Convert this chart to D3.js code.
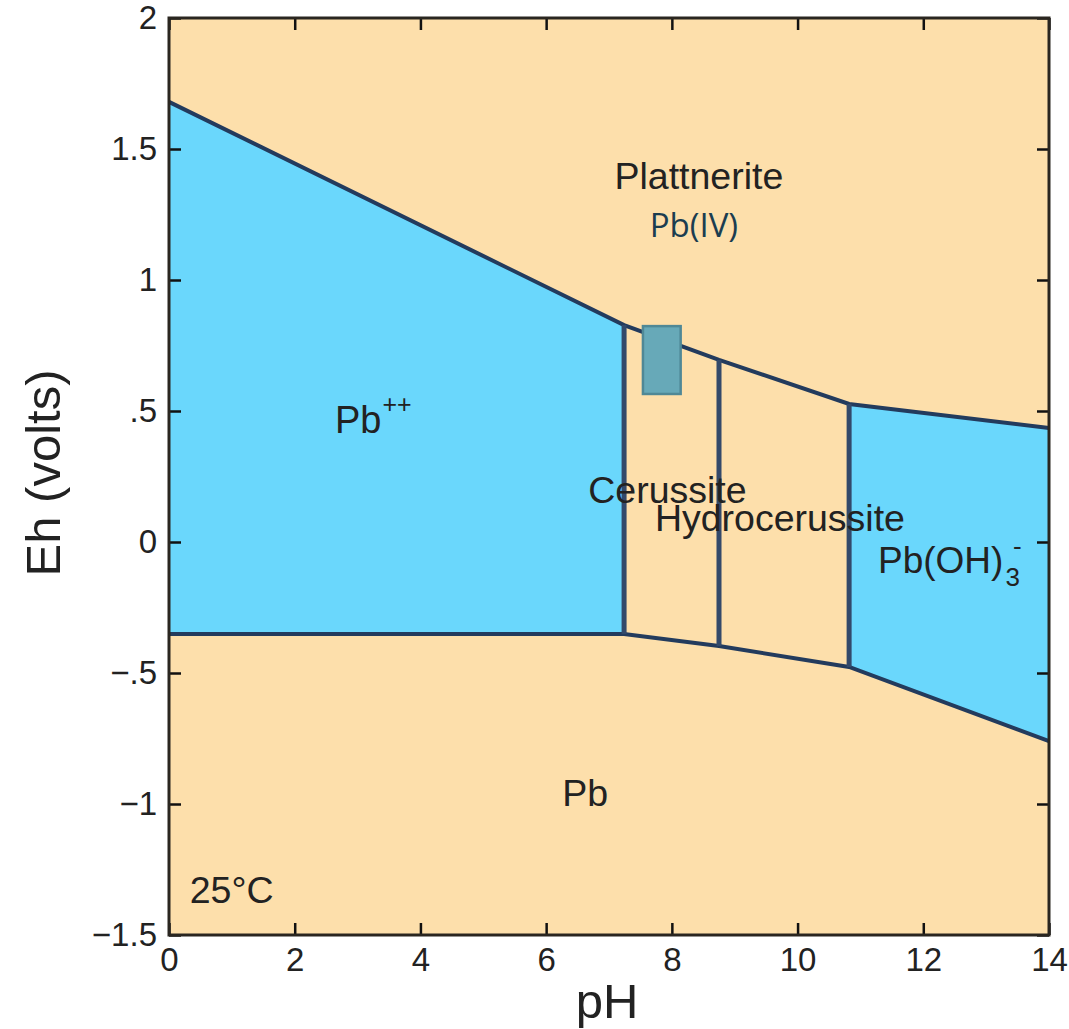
<!DOCTYPE html>
<html>
<head>
<meta charset="utf-8">
<script src="https://cdn.jsdelivr.net/npm/d3@7"></script>
<style>
  body { margin: 0; background: #fff; }
  svg text { font-family: "Liberation Sans", Arial, sans-serif; fill: #222; }
</style>
</head>
<body>
<script>
// tick values and labels
const phTicks = [0, 2, 4, 6, 8, 10, 12, 14];
const ehTicks = [2, 1.5, 1, 0.5, 0, -0.5, -1, -1.5];
const ehTickLabels = ["2", "1.5", "1", ".5", "0", "\u2212.5", "\u22121", "\u22121.5"];

// stability field boundaries
const boundaryPH = [0, 7.24, 8.75, 10.82, 14];
const upperEh = [1.68, 0.828, 0.695, 0.527, 0.435];
const lowerEh = [-0.351, -0.351, -0.397, -0.477, -0.76];
const verticalPH = [7.24, 8.75, 10.82];

// measured field (shaded box)
const boxPH = [7.54, 8.14];
const boxEh = [0.565, 0.824];

// field labels: [text, pH, Eh, anchor]
const fieldLabels = [
  ["Plattnerite", 8.43, 1.347, "middle"],
  ["Cerussite", 6.67, 0.149, "start"],
  ["Hydrocerussite", 7.73, 0.042, "start"],
  ["Pb", 6.62, -1.008, "middle"],
  ["25°C", 0.33, -1.378, "start"]
];

const w = 1069, h = 1029;
const x0 = 169, x1 = 1049, y0 = 18, y1 = 935;

const svg = d3.select("body").append("svg").attr("width", w).attr("height", h);

const xScale = d3.scaleLinear().domain([0, 14]).range([x0, x1]);
const yScale = d3.scaleLinear().domain([-1.5, 2]).range([y1, y0]);

// background (stable solids)
svg.append("rect")
  .attr("x", x0).attr("y", y0)
  .attr("width", x1 - x0).attr("height", y1 - y0)
  .attr("fill", "#fddfab");

// aqueous fields (blue)
const blueFields = [[0, 1], [3, 4]];
blueFields.forEach(([a, b]) => {
  const pts = [];
  for (let i = a; i <= b; i++) pts.push([boundaryPH[i], upperEh[i]]);
  for (let i = b; i >= a; i--) pts.push([boundaryPH[i], lowerEh[i]]);
  svg.append("path")
    .attr("d", d3.line().x(d => xScale(d[0])).y(d => yScale(d[1]))(pts) + "Z")
    .attr("fill", "#6ad7fc");
});

// boundary lines
const line = d3.line().x(d => xScale(d[0])).y(d => yScale(d[1]));
const lineColor = "#233b5d";
svg.append("path").attr("d", line(boundaryPH.map((p, i) => [p, upperEh[i]])))
  .attr("fill", "none").attr("stroke", lineColor).attr("stroke-width", 4);
svg.append("path").attr("d", line(boundaryPH.map((p, i) => [p, lowerEh[i]])))
  .attr("fill", "none").attr("stroke", lineColor).attr("stroke-width", 4);
verticalPH.forEach(p => {
  const i = boundaryPH.indexOf(p);
  svg.append("line")
    .attr("x1", xScale(p)).attr("x2", xScale(p))
    .attr("y1", yScale(upperEh[i])).attr("y2", yScale(lowerEh[i]))
    .attr("stroke", "#33496a").attr("stroke-width", 5);
});

// measured box
svg.append("rect")
  .attr("x", xScale(boxPH[0])).attr("y", yScale(boxEh[1]))
  .attr("width", xScale(boxPH[1]) - xScale(boxPH[0]))
  .attr("height", yScale(boxEh[0]) - yScale(boxEh[1]))
  .attr("fill", "#67a9b8").attr("stroke", "#4f8896").attr("stroke-width", 2.5);

// axes with inward ticks
const xAxis = d3.axisBottom(xScale).tickValues(phTicks).tickSize(-12).tickPadding(13);
const yAxis = d3.axisLeft(yScale).tickValues(ehTicks).tickSize(-12).tickPadding(12)
  .tickFormat((d, i) => ehTickLabels[i]);
const xTop = d3.axisTop(xScale).tickValues(phTicks).tickSize(-12).tickFormat("");
const yRight = d3.axisRight(yScale).tickValues(ehTicks).tickSize(-12).tickFormat("");

function style(g) {
  g.select(".domain").remove();
  g.selectAll(".tick line").attr("stroke", "#111").attr("stroke-width", 2.5);
  g.selectAll(".tick text").attr("font-size", 33).attr("fill", "#222")
    .attr("font-family", "Liberation Sans, Arial, sans-serif");
}
svg.append("g").attr("transform", "translate(0," + y1 + ")").call(xAxis).call(style);
svg.append("g").attr("transform", "translate(" + x0 + ",0)").call(yAxis).call(style);
svg.append("g").attr("transform", "translate(0," + y0 + ")").call(xTop).call(style);
svg.append("g").attr("transform", "translate(" + x1 + ",0)").call(yRight).call(style);

// frame
svg.append("rect")
  .attr("x", x0).attr("y", y0)
  .attr("width", x1 - x0).attr("height", y1 - y0)
  .attr("fill", "none").attr("stroke", "#2a2620").attr("stroke-width", 3);

// axis titles
svg.append("text").text("pH")
  .attr("x", 607).attr("y", 1018)
  .attr("text-anchor", "middle").attr("font-size", 49);
svg.append("text").text("Eh (volts)")
  .attr("transform", "translate(60,473) rotate(-90)")
  .attr("text-anchor", "middle").attr("font-size", 49);

// field labels
svg.selectAll(".field")
  .data(fieldLabels)
  .enter().append("text")
  .attr("class", "field")
  .attr("x", d => xScale(d[1])).attr("y", d => yScale(d[2]))
  .attr("text-anchor", d => d[3])
  .attr("font-size", 37.5)
  .text(d => d[0]);

svg.append("text")
  .attr("x", xScale(8.35)).attr("y", yScale(1.164))
  .attr("text-anchor", "middle")
  .attr("font-size", 33)
  .style("font-family", "'Open Sans', sans-serif")
  .style("fill", "#1b3d50")
  .text("Pb(IV)");

// Pb++ with superscript
const pbpp = svg.append("text")
  .attr("x", xScale(2.64)).attr("y", yScale(0.416))
  .attr("font-size", 38);
pbpp.append("tspan").text("Pb");
pbpp.append("tspan").text("++").attr("font-size", 25).attr("dy", -20).attr("dx", 1);

// Pb(OH)3- with stacked sub/superscript
const px = xScale(11.28), py = yScale(-0.118);
const pboh = svg.append("text").attr("x", px).attr("y", py).attr("font-size", 37);
pboh.append("tspan").text("Pb(OH)");
pboh.append("tspan").text("3").attr("font-size", 26).attr("dy", 13).attr("dx", 2);
svg.append("text")
  .attr("x", px + 135).attr("y", py - 18)
  .attr("font-size", 26)
  .text("-");
</script>
</body>
</html>
